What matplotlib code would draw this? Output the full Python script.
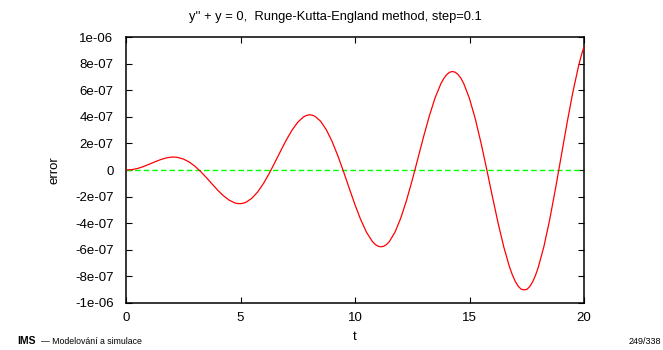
import numpy as np
import matplotlib
matplotlib.use("Agg")
import matplotlib.pyplot as plt

# ---- data ----
t_vals = [i * 0.25 for i in range(81)]
error_1e7 = [0.000, 0.026, 0.114, 0.252, 0.425, 0.608, 0.777, 0.906, 0.970, 0.950,
             0.832, 0.614, 0.298, -0.099, -0.554, -1.037, -1.510, -1.934, -2.268, -2.479,
             -2.536, -2.421, -2.125, -1.653, -1.024, -0.271, 0.563, 1.426, 2.260, 3.004,
             3.600, 3.997, 4.157, 4.050, 3.672, 3.028, 2.148, 1.076, -0.125, -1.385,
             -2.619, -3.745, -4.686, -5.369, -5.736, -5.750, -5.394, -4.672, -3.619, -2.289,
             -0.755, 0.889, 2.542, 4.097, 5.450, 6.504, 7.181, 7.424, 7.199, 6.511,
             5.379, 3.870, 2.061, 0.066, -2.001, -4.008, -5.820, -7.322, -8.397, -8.976,
             -9.003, -8.456, -7.359, -5.762, -3.757, -1.458, 0.990, 3.446, 5.747, 7.745,
             9.304]
# extra readings around the extrema
t_extra = [1.875, 2.125, 4.875, 5.125, 7.875, 8.125, 10.875, 11.125, 11.375,
           13.875, 14.125, 14.375, 14.625, 16.875, 17.125, 17.375, 17.625, 17.875, 19.875]
error_extra_1e7 = [0.947, 0.971, -2.529, -2.501, 4.109, 4.138, -5.595, -5.789, -5.618,
                   6.891, 7.359, 7.372, 6.915, -7.918, -8.754, -9.030, -8.799, -7.971, 8.588]

xticks = [0, 5, 10, 15, 20]
yticks = [1e-06, 8e-07, 6e-07, 4e-07, 2e-07, 0, -2e-07, -4e-07, -6e-07, -8e-07, -1e-06]
ytick_labels = ["1e-06", "8e-07", "6e-07", "4e-07", "2e-07", "0",
                "-2e-07", "-4e-07", "-6e-07", "-8e-07", "-1e-06"]
title = "y'' + y = 0,  Runge-Kutta-England method, step=0.1"

plt.rcParams['font.family'] = ['Liberation Sans', 'DejaVu Sans']

fig = plt.figure(figsize=(6.63, 3.5), dpi=100)
ax = fig.add_axes([126 / 663, 1 - 302.7 / 350, (584 - 126) / 663, (302.7 - 37.3) / 350])

t = np.array(t_vals + t_extra)
err = np.array(error_1e7 + error_extra_1e7) * 1e-7
order = np.argsort(t)
ax.plot(t[order], err[order], color='#ff0000', lw=0.9, zorder=3)
ax.axhline(0, color='#00ff00', lw=1.0, ls=(0, (4, 2.2)), zorder=2)

ax.set_xlim(0, 20)
ax.set_ylim(-1e-06, 1e-06)
ax.set_xticks(xticks)
ax.set_xticklabels([str(v) for v in xticks])
ax.set_yticks(yticks)
ax.set_yticklabels(ytick_labels)
ax.tick_params(direction='in', length=4.5, width=0.8, labelsize=9.5,
               top=True, right=True)
ax.tick_params(axis='y', pad=9)
ax.tick_params(axis='x', pad=6.5)
for sp in ax.spines.values():
    sp.set_linewidth(1.1)

fig.text(355 / 663, 1 - 337 / 350, 't', ha='center', va='center', fontsize=9.5)
fig.text(54 / 663, 1 - 170 / 350, 'error', ha='center', va='center', rotation=90, fontsize=9.5)
fig.text(335 / 663, 1 - 17 / 350, title, ha='center', va='center', fontsize=9.3)

fig.text(17 / 663, 1 - 341 / 350, 'IMS', ha='left', va='center', fontsize=7.5, fontweight='bold')
fig.text(41 / 663, 1 - 341 / 350, '— Modelování a simulace', ha='left', va='center', fontsize=6.3)
fig.text(629 / 663, 1 - 342 / 350, '249/338', ha='left', va='center', fontsize=6.5)

fig.savefig('out.png', dpi=100)
